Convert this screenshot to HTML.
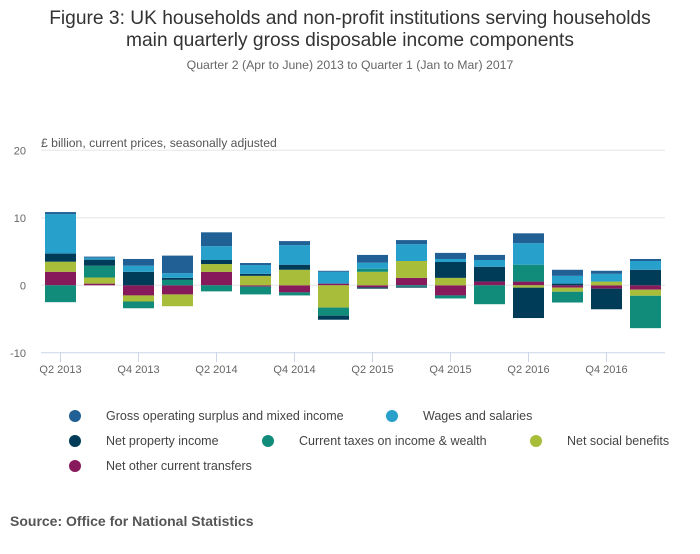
<!DOCTYPE html>
<html><head><meta charset="utf-8"><style>
body{margin:0;background:#fff;font-family:"Liberation Sans",sans-serif;}
svg text{font-family:"Liberation Sans",sans-serif;}
</style></head><body>
<svg id="chart" width="700" height="549" xmlns="http://www.w3.org/2000/svg">
<text x="350" y="24" text-anchor="middle" font-size="19.2" fill="#333">Figure 3: UK households and non-profit institutions serving households</text>
<text x="350" y="46" text-anchor="middle" font-size="19.2" fill="#333">main quarterly gross disposable income components</text>
<text x="350" y="69" text-anchor="middle" font-size="12.3" fill="#666">Quarter 2 (Apr to June) 2013 to Quarter 1 (Jan to Mar) 2017</text>
<text x="41" y="147" font-size="12.2" fill="#555">£ billion, current prices, seasonally adjusted</text>
<g id="grid"></g><g id="bars"></g><g id="xaxis"></g>
<g id="legend"></g>
<text x="10" y="526" font-size="14" font-weight="bold" fill="#555">Source: Office for National Statistics</text>
</svg>
<script>
const categories=["Q2 2013","Q3 2013","Q4 2013","Q1 2014","Q2 2014","Q3 2014","Q4 2014","Q1 2015","Q2 2015","Q3 2015","Q4 2015","Q1 2016","Q2 2016","Q3 2016","Q4 2016","Q1 2017"];
const gos=[0.3,0.15,1.0,2.6,2.05,0.3,0.6,0.15,1.15,0.6,0.9,0.75,1.45,0.9,0.45,0.3];
const wages=[5.85,0.3,0.9,0.7,2.05,1.3,2.9,1.75,0.9,2.5,0.45,1.0,3.2,1.15,1.15,1.3];
const property=[1.2,0.9,2.0,0.3,0.6,0.3,0.75,-0.6,-0.2,-0.15,2.35,2.2,-4.5,0.25,-3.05,2.3];
const taxes=[-2.5,1.75,-1.0,0.8,-0.9,-1.15,-0.45,-1.2,0.45,-0.2,-0.45,-2.8,2.5,-1.6,0,-4.8];
const social=[1.5,0.9,-0.9,-1.75,1.15,1.4,2.3,-3.3,2.0,2.5,1.1,0,-0.35,-0.6,0.55,-0.9];
const other=[2.0,0.25,-1.5,-1.35,2.0,-0.2,-1.05,0.25,-0.3,1.1,-1.5,0.55,0.55,-0.35,-0.5,-0.65];
const yTicks=[20,10,0,-10];
const xTickLabels=["Q2 2013","Q4 2013","Q2 2014","Q4 2014","Q2 2015","Q4 2015","Q2 2016","Q4 2016"];
const seriesNames=["Gross operating surplus and mixed income","Wages and salaries","Net property income","Current taxes on income & wealth","Net social benefits","Net other current transfers"];
const colors=["#206095","#27a0cc","#003c57","#118c7b","#a8bd3a","#871a5b"];
const NS="http://www.w3.org/2000/svg";
const x0=41,band=39,bw=31;
const y=v=>285.3-v*6.75;
const xc=i=>x0+band*i+band/2;
function mk(t,a,p){const e=document.createElementNS(NS,t);for(const k in a)e.setAttribute(k,a[k]);p.appendChild(e);return e;}
const grid=document.getElementById('grid');
yTicks.forEach(t=>{
 const l=mk('line',{x1:41,x2:665,y1:y(t),y2:y(t),stroke:t===-10?'#ccd6eb':'#e6e6e6','stroke-width':1},grid);
 
 
 const tx=mk('text',{x:26,y:y(t)+4,'text-anchor':'end','font-size':11,fill:'#666'},grid);tx.textContent=t;
 
 
});
const series=[gos,wages,property,taxes,social,other];
const order=[5,4,3,2,1,0];
const bars=document.getElementById('bars');
categories.forEach((c,i)=>{
 let pos=0,neg=0;
 order.forEach(s=>{
  const v=series[s][i];if(!v)return;
  let top,bot;
  if(v>0){bot=pos;pos+=v;top=pos;}else{top=neg;neg+=v;bot=neg;}
  const r=mk('rect',{x:xc(i)-bw/2,y:y(top),width:bw,height:y(bot)-y(top),fill:colors[s]},bars);
  
  
 });
});
const xa=document.getElementById('xaxis');
categories.forEach((c,i)=>{
 const k=xTickLabels.indexOf(c);if(k<0)return;
 mk('line',{x1:xc(i),x2:xc(i),y1:352,y2:362,stroke:'#ccd6eb'},xa);
 const t=mk('text',{x:xc(i),y:373,'text-anchor':'middle','font-size':11,fill:'#666'},xa);t.textContent=c;
 
 
});
const lg=document.getElementById('legend');
const lpos=[[75,416],[392,416],[75,441],[268,441],[536,441],[75,466]];
seriesNames.forEach((n,s)=>{
 const g=mk('g',{},lg);
 
 
 mk('circle',{cx:lpos[s][0],cy:lpos[s][1],r:6,fill:colors[s]},g);
 const t=mk('text',{x:lpos[s][0]+31,y:lpos[s][1]+4,'font-size':12.5,fill:'#444'},g);t.textContent=n;
});
</script>
</body></html>
